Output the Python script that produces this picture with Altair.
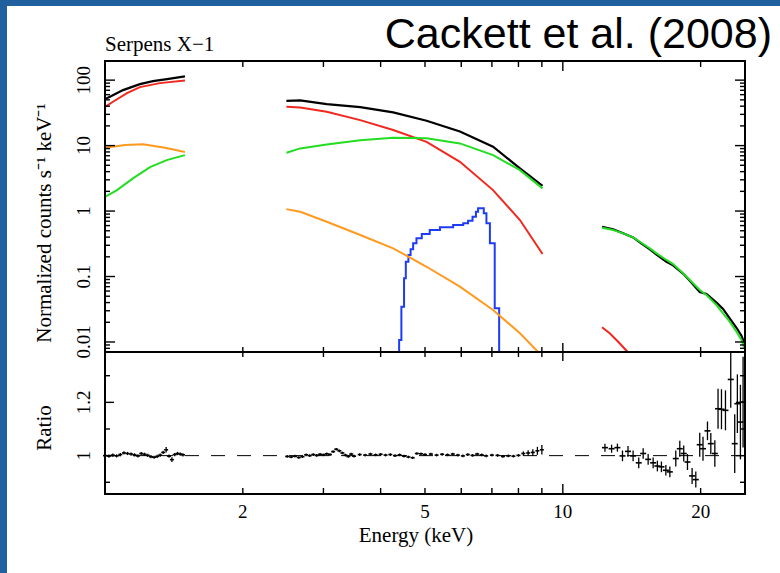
import altair as alt
import pandas as pd

# ---------------- data: spectrum (top panel) ----------------
# energy in keV, normalized counts s^-1 keV^-1
# segment 1 (~1.0-1.5 keV)
tot1_E = [1.00, 1.025, 1.095, 1.192, 1.273, 1.366, 1.495]
tot1_v = [51.3, 55.6, 70.4, 86.9, 96.5, 103.6, 113.8]
red1_E = [1.00, 1.041, 1.117, 1.192, 1.318, 1.495]
red1_v = [39.1, 46.7, 63.3, 78.2, 90.0, 98.9]
org1_E = [1.00, 1.106, 1.21, 1.352, 1.495]
org1_v = [9.25, 10.2, 10.5, 9.3, 8.0]
grn1_E = [1.00, 1.062, 1.153, 1.254, 1.364, 1.495]
grn1_v = [1.65, 2.09, 3.19, 4.70, 6.0, 7.16]

# segment 2 (~2.5-9 keV)
seg2_E = [2.49, 2.67, 3.05, 3.61, 4.26, 5.04, 5.96, 7.04, 8.06, 9.03]
tot2_v = [48.3, 49.0, 43.1, 38.6, 32.1, 24.0, 16.4, 9.6, 4.49, 2.43]
red2_v = [39.1, 38.3, 32.8, 24.5, 17.3, 11.4, 5.66, 2.09, 0.73, 0.221]
grn2_v = [7.76, 9.06, 10.4, 12.1, 13.2, 12.9, 10.8, 7.16, 4.22, 2.22]
org2_v = [1.07, 0.976, 0.687, 0.430, 0.270, 0.141, 0.070, 0.0308, 0.0136, 0.0060]

# iron line (step histogram)
blue_E = [4.30, 4.39, 4.44, 4.50, 4.54, 4.60, 4.65, 4.71, 4.79, 4.92, 5.12, 5.39, 5.76,
          6.06, 6.21, 6.35, 6.46, 6.53, 6.72, 6.81, 6.93, 7.10, 7.26, 7.40]
blue_v = [0.001, 0.0107, 0.0346, 0.094, 0.168, 0.213, 0.26, 0.321, 0.383, 0.446, 0.513,
          0.564, 0.611, 0.649, 0.711, 0.818, 0.975, 1.10, 0.922, 0.649, 0.321, 0.0327,
          0.001, 0.001]

# segment 3 (~12-25 keV)
seg3_E = [12.18, 12.88, 13.54, 14.24, 14.73, 15.49, 16.02, 16.84, 17.41, 18.31, 18.94,
          19.91, 20.60, 21.66, 22.39, 23.15, 23.95, 24.56, 24.97]
grn3_v = [0.556, 0.513, 0.456, 0.396, 0.340, 0.269, 0.226, 0.179, 0.155, 0.112, 0.0885,
          0.0622, 0.0522, 0.0367, 0.0274, 0.0204, 0.0144, 0.0107, 0.0080]
tot3_v = [0.572, 0.528, 0.458, 0.395, 0.333, 0.259, 0.216, 0.168, 0.148, 0.111, 0.086,
          0.058, 0.054, 0.040, 0.032, 0.023, 0.0165, 0.0125, 0.0092]
red3_E = [12.18, 12.66, 13.21, 13.73, 14.36]
red3_v = [0.01676, 0.0136, 0.0101, 0.00755, 0.0053]

# ---------------- data: ratio (bottom panel) ----------------
r1_E = [1.00, 1.02, 1.04, 1.06, 1.08, 1.10, 1.12, 1.14, 1.16, 1.18, 1.20, 1.22, 1.24,
        1.26, 1.28, 1.30, 1.32, 1.34, 1.36, 1.38, 1.40, 1.42, 1.44, 1.46, 1.48]
r1 = [1.000, 0.998, 1.002, 0.999, 1.004, 1.010, 1.008, 1.006, 1.003, 0.999, 1.008, 1.005,
      1.001, 0.996, 0.994, 0.997, 1.002, 1.012, 1.022, 0.998, 0.985, 1.004, 1.008, 1.006, 1.003]
r1_err = [0.006] * 18 + [0.010, 0.006, 0.009, 0.006, 0.006, 0.006, 0.006]

r2_E = [2.50, 2.55, 2.60, 2.65, 2.70, 2.75, 2.80, 2.85, 2.90, 2.95, 3.00, 3.05, 3.10, 3.15,
        3.20, 3.25, 3.30, 3.35, 3.40, 3.45, 3.50, 3.60, 3.70, 3.80, 3.90, 4.00, 4.10, 4.20,
        4.30, 4.40, 4.50, 4.60, 4.70, 4.80, 4.90, 5.00, 5.15, 5.30, 5.45, 5.60, 5.75, 5.90,
        6.05, 6.20, 6.35, 6.50, 6.65, 6.80, 7.00, 7.20, 7.40, 7.60, 7.80, 8.00, 8.20, 8.40,
        8.60, 8.80, 9.00]
r2 = [0.997, 0.995, 0.998, 0.993, 0.996, 1.003, 1.000, 1.004, 1.001, 1.005, 1.003, 1.007,
      1.004, 1.015, 1.024, 1.018, 1.010, 1.002, 0.997, 1.006, 0.998, 1.004, 1.002, 1.006,
      1.003, 1.005, 1.002, 1.004, 1.000, 1.003, 0.998, 0.995, 0.992, 1.008, 1.007, 1.004,
      1.006, 1.002, 1.005, 1.003, 1.006, 1.002, 0.999, 1.004, 1.001, 1.006, 1.003, 0.999,
      1.002, 1.001, 0.997, 0.999, 0.998, 1.001, 1.008, 1.010, 1.012, 1.018, 1.022]
r2_err = [0.005] * 54 + [0.008, 0.010, 0.012, 0.015, 0.018]

r3_E = [12.36, 12.78, 13.16, 13.50, 13.88, 14.24, 14.65, 14.98, 15.36, 15.75, 16.09, 16.42,
        16.79, 17.13, 17.65, 18.01, 18.37, 18.72, 19.16, 19.52, 19.91, 20.24, 20.70, 21.05,
        21.48, 21.83, 22.21, 22.66, 23.27, 23.74, 24.06, 24.43, 24.76]
r3 = [1.030, 1.026, 1.030, 0.999, 1.016, 0.999, 0.973, 1.008, 0.986, 0.973, 0.961, 0.958,
      0.945, 0.939, 0.989, 1.026, 1.008, 0.976, 0.924, 0.910, 1.041, 1.026, 1.093, 1.045,
      1.008, 1.176, 1.174, 1.170, 1.286, 1.045, 1.195, 1.126, 1.201]
r3_err = [0.015, 0.015, 0.015, 0.02, 0.02, 0.02, 0.02, 0.02, 0.02, 0.02, 0.02, 0.02, 0.02,
          0.02, 0.03, 0.03, 0.03, 0.03, 0.03, 0.03, 0.045, 0.045, 0.035, 0.04, 0.05, 0.075,
          0.075, 0.075, 0.106, 0.11, 0.11, 0.14, 0.17]

# axis ticks and labels
x_minor = [2, 3, 4, 5, 6, 7, 8, 9, 20]
x_major = [10]
x_label_vals = [2, 5, 10, 20]
x_label_text = ["2", "5", "10", "20"]
ytop_major = [0.01, 0.1, 1, 10, 100]
ytop_label_text = ["0.01", "0.1", "1", "10", "100"]
ytop_minor = [0.008, 0.009, 0.02, 0.03, 0.04, 0.05, 0.06, 0.07, 0.08, 0.09,
              0.2, 0.3, 0.4, 0.5, 0.6, 0.7, 0.8, 0.9, 2, 3, 4, 5, 6, 7, 8, 9,
              20, 30, 40, 50, 60, 70, 80, 90]
ybot_major = [1.0, 1.2]
ybot_label_text = ["1", "1.2"]
ybot_minor = [0.9, 1.1, 1.3]

# ---------------- styling ----------------
SERIF = "Liberation Serif"
SANS = "Liberation Sans"
W, H1, H2 = 640, 291, 142
C_BLACK, C_RED, C_GREEN, C_ORANGE, C_BLUE = "#000000", "#f0281e", "#22dd22", "#ff9a1e", "#1e3cf5"
SLIDE_BLUE = "#21609f"

xscale = alt.Scale(type="log", domain=[1, 25], nice=False)
ytop = alt.Scale(type="log", domain=[0.00703, 196], nice=False)
ybot = alt.Scale(type="linear", domain=[0.856, 1.389], nice=False, zero=False)

one = pd.DataFrame({"a": [0]})


def segs(*pairs):
    rows = []
    for s, (E, v) in enumerate(pairs):
        for e, val in zip(E, v):
            rows.append({"E": e, "v": val, "seg": s})
    return pd.DataFrame(rows)


def line_layer(df, color, width=2.0, interp="linear"):
    return alt.Chart(df).mark_line(color=color, strokeWidth=width, clip=True,
                                   interpolate=interp).encode(
        x=alt.X("E:Q", scale=xscale, axis=None),
        y=alt.Y("v:Q", scale=ytop, axis=None),
        detail="seg:N",
    )


def xtick_layer(vals, y0, y1):
    return alt.Chart(pd.DataFrame({"t": vals})).mark_rule(color="black", strokeWidth=1.4).encode(
        x=alt.X("t:Q", scale=xscale, axis=None), y=alt.value(y0), y2=alt.value(y1))


def ytick_layer(vals, scale, x0, x1):
    return alt.Chart(pd.DataFrame({"t": vals})).mark_rule(color="black", strokeWidth=1.4).encode(
        y=alt.Y("t:Q", scale=scale, axis=None), x=alt.value(x0), x2=alt.value(x1))


def ylabel_layer(vals, texts, scale):
    df = pd.DataFrame({"t": vals, "lab": texts})
    return alt.Chart(df).mark_text(font=SERIF, fontSize=19, angle=270, align="center",
                                   baseline="alphabetic", color="black").encode(
        y=alt.Y("t:Q", scale=scale, axis=None), x=alt.value(-15), text="lab:N")


def xlabel_layer(vals, texts, ypos):
    df = pd.DataFrame({"t": vals, "lab": texts})
    return alt.Chart(df).mark_text(font=SERIF, fontSize=19, align="center",
                                   baseline="top", color="black").encode(
        x=alt.X("t:Q", scale=xscale, axis=None), y=alt.value(ypos), text="lab:N")


def note(text, x, y, size, font=SERIF, align="center", baseline="alphabetic", angle=0):
    return alt.Chart(one).mark_text(text=text, font=font, fontSize=size, align=align,
                                    baseline=baseline, angle=angle, color="black").encode(
        x=alt.value(x), y=alt.value(y))


def frame(h):
    return alt.Chart(one).mark_rect(fillOpacity=0, stroke="black", strokeWidth=2).encode(
        x=alt.value(0), x2=alt.value(W), y=alt.value(0), y2=alt.value(h))


# ---------------- top panel ----------------
strip_left = alt.Chart(one).mark_rect(color=SLIDE_BLUE).encode(
    x=alt.value(-105), x2=alt.value(-98), y=alt.value(-61), y2=alt.value(512))
strip_top = alt.Chart(one).mark_rect(color=SLIDE_BLUE).encode(
    x=alt.value(-105), x2=alt.value(675), y=alt.value(-61), y2=alt.value(-55))

black_df = segs((tot1_E, tot1_v), (seg2_E, tot2_v), (seg3_E, tot3_v))
red_df = segs((red1_E, red1_v), (seg2_E, red2_v), (red3_E, red3_v))
org_df = segs((org1_E, org1_v), (seg2_E, org2_v))
grn_df = segs((grn1_E, grn1_v), (seg2_E, grn2_v), (seg3_E, grn3_v))
blue_df = segs((blue_E, blue_v))

top_layers = [
    line_layer(black_df, C_BLACK, 2.2),
    strip_left, strip_top,
    note("Serpens X−1", 0, -10, 21, align="left"),
    note("Cackett et al. (2008)", 667, -13, 43, font=SANS, align="right"),
    note("Normalized counts s⁻¹ keV⁻¹", -60, 162, 21, baseline="middle", angle=270),
    line_layer(red_df, C_RED),
    line_layer(blue_df, C_BLUE, interp="step-after"),
    line_layer(org_df, C_ORANGE),
    line_layer(grn_df, C_GREEN),
    xtick_layer(x_minor, 0, 6), xtick_layer(x_major, 0, 10),
    xtick_layer(x_minor, H1, H1 - 5), xtick_layer(x_major, H1, H1 - 9),
    ytick_layer(ytop_minor, ytop, 0, 5), ytick_layer(ytop_major, ytop, 0, 10),
    ytick_layer(ytop_minor, ytop, W, W - 5), ytick_layer(ytop_major, ytop, W, W - 10),
    ylabel_layer(ytop_major, ytop_label_text, ytop),
    frame(H1),
]
top = alt.layer(*top_layers).properties(width=W, height=H1)

# ---------------- bottom panel ----------------
rat_rows = []
for s, (E, r, er) in enumerate([(r1_E, r1, r1_err), (r2_E, r2, r2_err), (r3_E, r3, r3_err)]):
    for e, rv, ev in zip(E, r, er):
        rat_rows.append({"E": e, "r": rv, "lo": rv - ev, "hi": rv + ev, "seg": s})
rat = pd.DataFrame(rat_rows)

dash = alt.Chart(pd.DataFrame({"one": [1.0]})).mark_rule(
    color="black", strokeWidth=1, strokeDash=[14, 12]).encode(
    y=alt.Y("one:Q", scale=ybot, axis=None))
err_bars = alt.Chart(rat).mark_rule(color="black", strokeWidth=1.3, clip=True).encode(
    x=alt.X("E:Q", scale=xscale, axis=None),
    y=alt.Y("lo:Q", scale=ybot, axis=None),
    y2="hi:Q",
)
hbar_small = alt.Chart(rat[rat.seg < 2]).mark_point(
    shape="M-1,0L1,0", size=16, filled=False, color="black", strokeWidth=1.6, opacity=1).encode(
    x=alt.X("E:Q", scale=xscale, axis=None), y=alt.Y("r:Q", scale=ybot, axis=None))
hbar_big = alt.Chart(rat[rat.seg == 2]).mark_point(
    shape="M-1,0L1,0", size=36, filled=False, color="black", strokeWidth=1.6, opacity=1).encode(
    x=alt.X("E:Q", scale=xscale, axis=None), y=alt.Y("r:Q", scale=ybot, axis=None))

bottom_layers = [
    dash, err_bars, hbar_small, hbar_big,
    xtick_layer(x_minor, 0, 5), xtick_layer(x_major, 0, 9),
    xtick_layer(x_minor, H2, H2 - 6), xtick_layer(x_major, H2, H2 - 10),
    ytick_layer(ybot_minor, ybot, 0, 5), ytick_layer(ybot_major, ybot, 0, 9),
    ytick_layer(ybot_minor, ybot, W, W - 5), ytick_layer(ybot_major, ybot, W, W - 9),
    ylabel_layer(ybot_major, ybot_label_text, ybot),
    xlabel_layer(x_label_vals, x_label_text, H2 + 9),
    note("Ratio", -60, 76, 21, baseline="middle", angle=270),
    note("Energy (keV)", 311, H2 + 48, 21),
    frame(H2),
]
bottom = alt.layer(*bottom_layers).properties(width=W, height=H2)

chart = alt.vconcat(top, bottom, spacing=0, bounds="flush").properties(
    padding={"left": 0, "top": 0, "right": 0, "bottom": 0},
    background="white",
).configure_view(strokeWidth=0)

chart.save("out.html", embed_options={"renderer": "svg", "actions": False})
